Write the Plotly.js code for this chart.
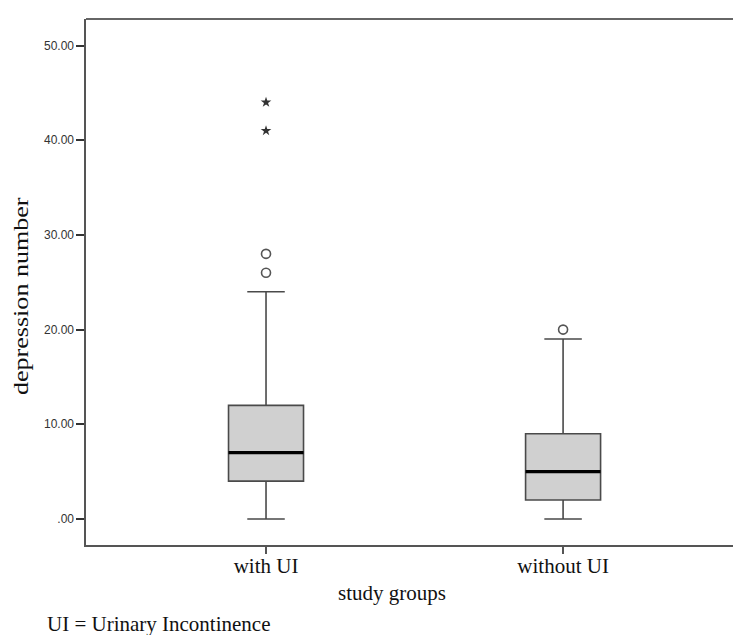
<!DOCTYPE html>
<html>
<head>
<meta charset="utf-8">
<script src="https://cdn.plot.ly/plotly-3.0.1.min.js"></script>
<style>html,body{margin:0;padding:0;background:#fff;}#chart{width:733px;height:635px;}</style>
</head>
<body>
<div id="chart"></div>
<script>
// Data
const groups = ["with UI", "without UI"];
const lowerWhisker = [0, 0];
const q1Values = [4, 2];
const medianValues = [7, 5];
const q3Values = [12, 9];
const upperWhisker = [24, 19];
const outliersWithUI = [26, 28];
const extremesWithUI = [41, 44];
const outliersWithoutUI = [20];
const yTickVals = [0, 10, 20, 30, 40, 50];
const yTickText = [".00", "10.00", "20.00", "30.00", "40.00", "50.00"];
const xTitle = "study groups";
const yTitle = "depression number";
const caption = "UI = Urinary Incontinence";

const pos = groups.map((g, i) => i);
const boxWidth = 0.2525;
const boxLine = "#4a4a4a";
const serif = "Liberation Serif, Times New Roman, serif";

const L = 86, R = 733, T = 19, B = 545;
const px = v => (v - L) / (R - L);
const py = v => (B - v) / (B - T);

const traces = [];
traces.push({
  type: "box",
  x: pos,
  q1: q1Values,
  median: medianValues,
  q3: q3Values,
  lowerfence: lowerWhisker,
  upperfence: upperWhisker,
  width: boxWidth,
  whiskerwidth: 0.5,
  fillcolor: "#d0d0d0",
  line: {color: boxLine, width: 1.6},
  boxpoints: false,
  hoverinfo: "skip",
  showlegend: false
});
const mx = [], my = [];
pos.forEach((p, i) => {
  mx.push(p - boxWidth / 2, p + boxWidth / 2, null);
  my.push(medianValues[i], medianValues[i], null);
});
traces.push({type: "scatter", mode: "lines", x: mx, y: my,
  line: {color: "#000", width: 3.2}, showlegend: false, hoverinfo: "skip"});
traces.push({type: "scatter", mode: "markers",
  x: outliersWithUI.map(() => pos[0]).concat(outliersWithoutUI.map(() => pos[1])),
  y: outliersWithUI.concat(outliersWithoutUI),
  marker: {symbol: "circle-open", size: 9, color: "#555", line: {width: 1.6, color: "#555"}},
  showlegend: false, hoverinfo: "skip"});
traces.push({type: "scatter", mode: "markers",
  x: extremesWithUI.map(() => pos[0]), y: extremesWithUI,
  marker: {symbol: "star", size: 8, color: "#333", line: {width: 0}},
  showlegend: false, hoverinfo: "skip"});

const layout = {
  width: 733, height: 635,
  margin: {l: L, r: 733 - R, t: T, b: 635 - B},
  paper_bgcolor: "#fff", plot_bgcolor: "#fff",
  showlegend: false,
  xaxis: {
    range: [-0.606, 1.572],
    tickvals: pos, ticktext: groups,
    showgrid: false, zeroline: false,
    showline: true, linecolor: "#555", linewidth: 1.6,
    ticks: "outside", ticklen: 7, tickwidth: 1.6, tickcolor: "#555",
    ticklabelstandoff: -6,
    tickfont: {family: serif, size: 21, color: "#111"}
  },
  yaxis: {
    range: [-2.75, 52.8],
    tickvals: yTickVals, ticktext: yTickText,
    showgrid: false, zeroline: false,
    showline: true, linecolor: "#555", linewidth: 1.6,
    ticks: "outside", ticklen: 8, tickwidth: 2, tickcolor: "#333",
    tickfont: {family: "Liberation Sans, Arial, sans-serif", size: 12, color: "#333"}
  },
  shapes: [{type: "line", xref: "paper", yref: "paper", x0: 0, x1: 1, y0: 1, y1: 1,
    line: {color: "#666", width: 2}}],
  annotations: [
    {xref: "paper", yref: "paper", x: px(392), y: py(593), xanchor: "center", yanchor: "middle",
      text: xTitle, showarrow: false, font: {family: serif, size: 21, color: "#111"}},
    {xref: "paper", yref: "paper", x: px(21), y: py(296), xanchor: "center", yanchor: "middle",
      text: yTitle, textangle: -90, showarrow: false, font: {family: serif, size: 20, color: "#111"}},
    {xref: "paper", yref: "paper", x: px(45), y: py(624), xanchor: "left", yanchor: "middle",
      text: caption, showarrow: false, font: {family: serif, size: 21, color: "#111"}}
  ]
};

Plotly.newPlot("chart", traces, layout, {displayModeBar: false, staticPlot: true}).then(gd => {
  // the reference's vertical title is drawn elongated; stretch it along its length
  const anns = gd.querySelectorAll(".annotation");
  const el = anns[1];
  if (el) {
    const bb = el.getBBox();
    const cx = bb.x + bb.width / 2, cy = bb.y + bb.height / 2;
    const s = 202 / bb.height;
    el.setAttribute("transform", `translate(${cx},${cy}) scale(1,${s}) translate(${-cx},${-cy})`);
  }
});
</script>
</body>
</html>
